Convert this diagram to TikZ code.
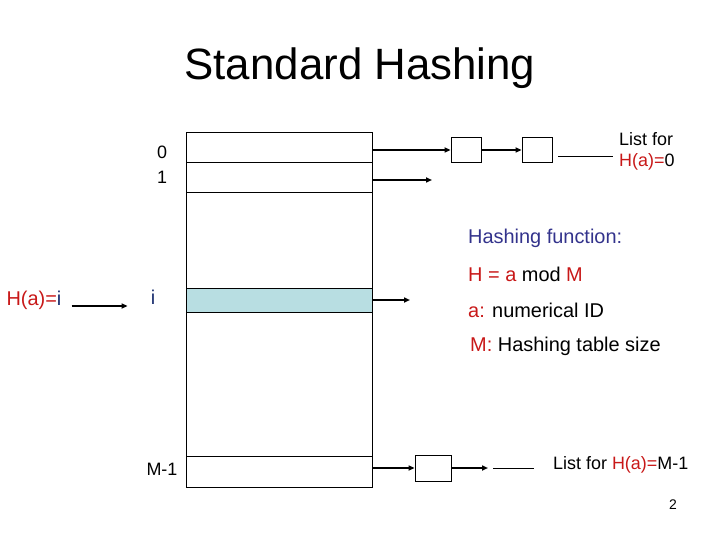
\documentclass[tikz,border=0pt]{standalone}
\usepackage{fontspec}
\setmainfont{Liberation Sans}
\usetikzlibrary{arrows.meta, positioning}
\definecolor{rojoTexto}{RGB}{200,24,24}
\definecolor{azulTexto}{RGB}{51,51,140}
\definecolor{azulIndice}{RGB}{25,45,110}
\definecolor{celdaFondo}{RGB}{184,222,226}

\begin{document}
\begin{tikzpicture}[x=1bp, y=-1bp,
    cell/.style={draw, line width=0.8bp, minimum width=186bp, inner sep=0pt, outer sep=0pt},
    listbox/.style={draw, line width=0.8bp, minimum width=30bp, minimum height=25bp, inner sep=0pt},
    arrow/.style={line width=1.6bp, -{Triangle[length=6bp, width=5bp]}},
    link/.style={line width=0.8bp},
    txt/.style={inner sep=0pt, font=\fontsize{20}{24}\selectfont},
    listtxt/.style={inner sep=0pt, anchor=west, align=left, font=\fontsize{18}{21}\selectfont}
]
    \useasboundingbox (0,0) rectangle (720,540);

    % title
    \node[txt, font=\fontsize{44}{50}\selectfont] (title) at (360,68) {Standard Hashing};

    % hash table
    \node[cell, anchor=north west, minimum height=30bp] (r0) at (186,132) {};
    \node[cell, minimum height=30bp, below=0pt of r0] (r1) {};
    \node[cell, minimum height=96bp, below=0pt of r1] (g1) {};
    \node[cell, minimum height=24bp, fill=celdaFondo, below=0pt of g1] (ri) {};
    \node[cell, minimum height=144bp, below=0pt of ri] (g2) {};
    \node[cell, minimum height=31bp, below=0pt of g2] (rm) {};

    % indices
    \node[txt, font=\fontsize{18}{21}\selectfont] (l0) at (162,152) {0};
    \node[txt, font=\fontsize{18}{21}\selectfont] (l1) at (162,177) {1};
    \node[txt, text=azulIndice] (li) at (153,297) {i};
    \node[txt, font=\fontsize{18}{21}\selectfont] (lm) at (162,469) {M-1};
    \node[txt] (hi) at (34,300) {\textcolor{rojoTexto}{H(a)=}\textcolor{azulIndice}{i}};
    \draw[arrow, shorten <=10bp, shorten >=23bp] ([yshift=-6bp]hi.east) -- ([yshift=-6bp]hi.east -| li.west);

    % list for slot 0
    \node[listbox] (b1) at (466,150) {};
    \node[listbox] (b2) at (537,150) {};
    \node[listtxt] (list0) at (619,151) {List for\\\textcolor{rojoTexto}{H(a)=}0};
    \draw[arrow] (r0.east |- b1) -- (b1.west);
    \draw[arrow] (b1.east) -- (b2.west);
    \draw[link] ([shift={(6,6)}]b2.east) -- ([shift={(-6,5)}]list0.west);

    % slots 1 and i
    \coordinate (e1) at (432,180);
    \draw[arrow] (r1.east |- e1) -- (e1);
    \coordinate (ei) at (410,300);
    \draw[arrow] (ri.east) -- (ri.east -| ei);

    % list for slot M-1
    \node[listbox, minimum width=36bp, minimum height=26bp] (bm) at (433,468) {};
    \node[listtxt] (listm) at (553,465) {List for \textcolor{rojoTexto}{H(a)=}M-1};
    \coordinate (em) at (488,468);
    \draw[arrow] (rm.east |- bm) -- (bm.west);
    \draw[arrow] (bm.east) -- (em);
    \draw[link] ([xshift=5bp]em) -- ([shift={(-19,3)}]listm.west);

    % hashing function
    \node[txt, anchor=west, text=azulTexto] (hf) at (468,238) {Hashing function:};
    \node[txt, anchor=west] (hmod) at (468,274) {\textcolor{rojoTexto}{H = a} mod \textcolor{rojoTexto}{M}};
    \node[txt, anchor=west] (aid) at (468,310) {\textcolor{rojoTexto}{a:} numerical ID};
    \node[txt, anchor=west] (msize) at (470,346) {\textcolor{rojoTexto}{M:} Hashing table size};

    % page number
    \node[txt, font=\fontsize{14}{16}\selectfont] (page) at (673,505) {2};
\end{tikzpicture}
\end{document}
